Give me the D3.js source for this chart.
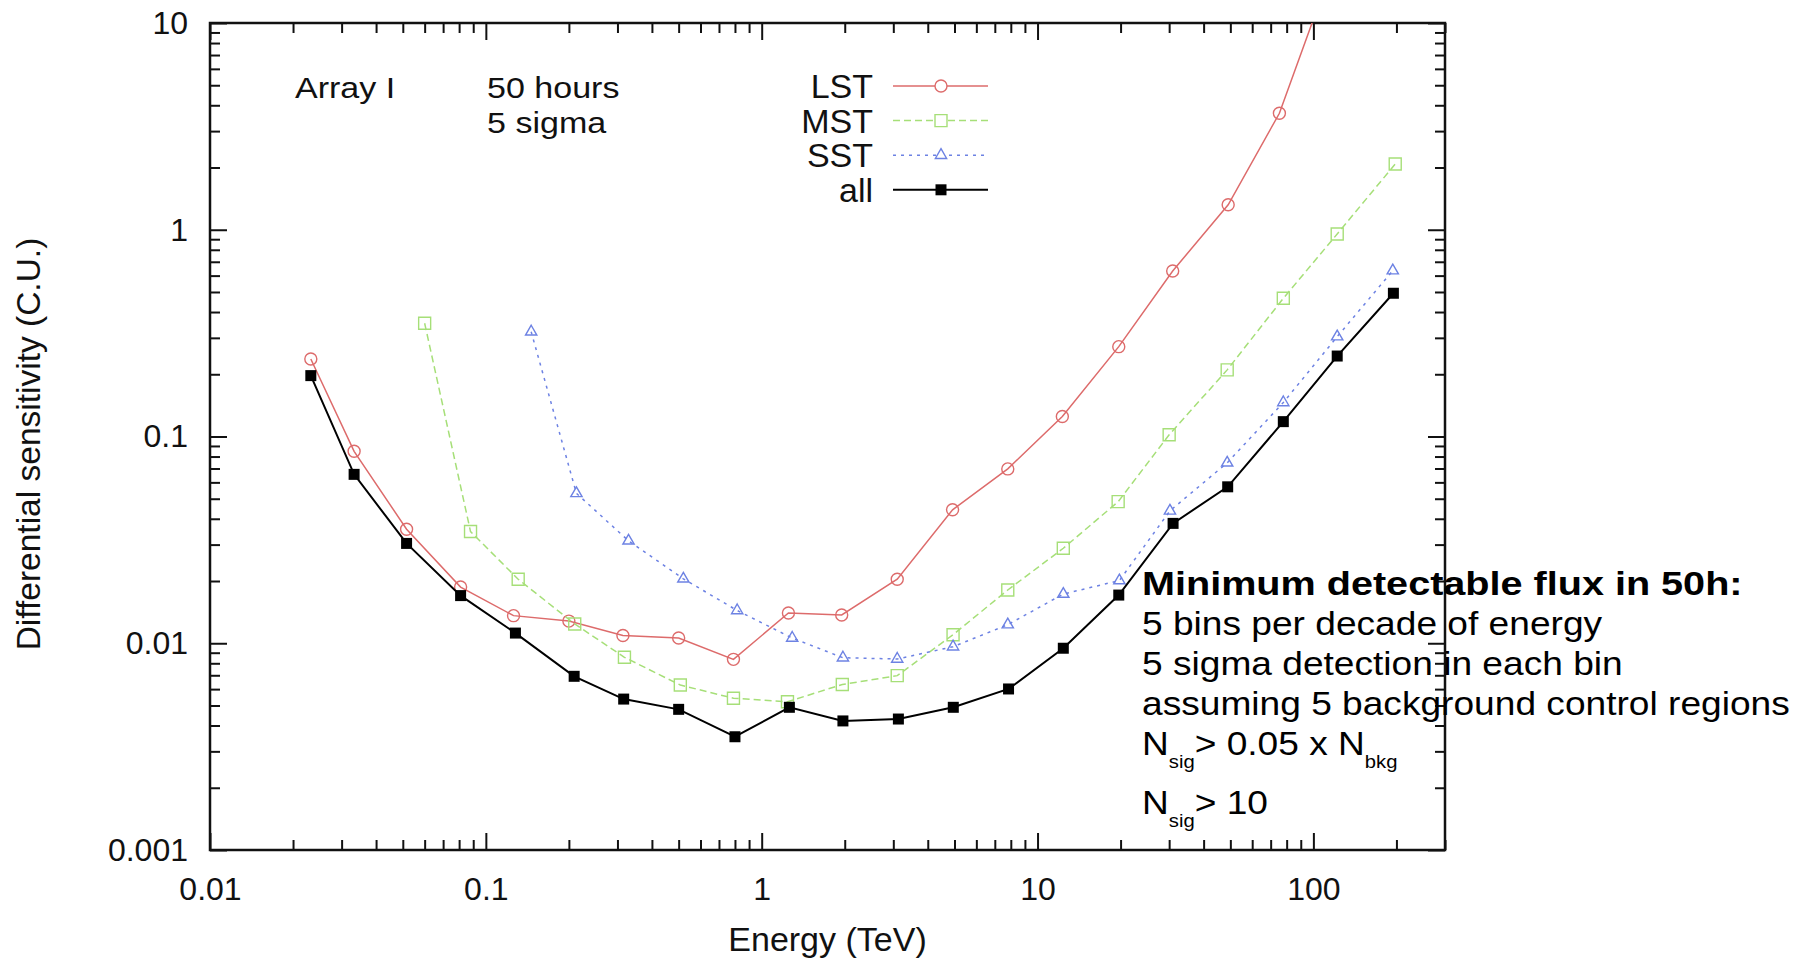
<!DOCTYPE html>
<html>
<head>
<meta charset="utf-8">
<script src="https://cdn.jsdelivr.net/npm/d3@7"></script>
<style>
  body { margin: 0; background: #fff; }
  svg { display: block; font-family: "Liberation Sans", Arial, Helvetica, sans-serif; }
</style>
</head>
<body>
<div id="chart"></div>
<script>
// DATA  (energy in TeV, differential sensitivity in Crab units)
const lstEnergy = [0.0232, 0.0333, 0.0516, 0.081, 0.126, 0.2, 0.314, 0.5, 0.79, 1.25, 1.95, 3.1, 4.92, 7.8, 12.3, 19.7, 30.9, 49.1, 75.3, 120]
const lstSens = [0.237, 0.0848, 0.0356, 0.0187, 0.0136, 0.0128, 0.0109, 0.0106, 0.00836, 0.0140, 0.0137, 0.0204, 0.0442, 0.0697, 0.125, 0.272, 0.632, 1.32, 3.66, 20.4]

const mstEnergy = [0.06, 0.088, 0.131, 0.21, 0.318, 0.507, 0.79, 1.24, 1.96, 3.1, 4.94, 7.8, 12.4, 19.6, 30, 48.7, 77.8, 122, 198]
const mstSens = [0.353, 0.0347, 0.0204, 0.0124, 0.00855, 0.00628, 0.00542, 0.00521, 0.00632, 0.00697, 0.0110, 0.0181, 0.0288, 0.0484, 0.102, 0.210, 0.466, 0.954, 2.08]

const sstEnergy = [0.146, 0.213, 0.329, 0.52, 0.815, 1.29, 1.97, 3.1, 4.94, 7.8, 12.4, 19.8, 30.2, 48.7, 77.8, 122, 194]
const sstSens = [0.321, 0.0531, 0.0313, 0.0205, 0.0144, 0.0106, 0.00851, 0.00839, 0.00962, 0.0123, 0.0173, 0.0201, 0.0437, 0.0746, 0.146, 0.304, 0.634]

const allEnergy = [0.0232, 0.0333, 0.0516, 0.081, 0.128, 0.209, 0.316, 0.5, 0.8, 1.26, 1.97, 3.13, 4.95, 7.85, 12.4, 19.7, 31, 48.9, 77.8, 122, 195]
const allSens = [0.197, 0.0656, 0.0304, 0.0170, 0.0112, 0.00692, 0.00537, 0.00479, 0.00353, 0.0049, 0.00421, 0.0043, 0.0049, 0.00601, 0.00946, 0.0171, 0.038, 0.0571, 0.118, 0.245, 0.493]

const seriesNames = ["LST", "MST", "SST", "all"]
const xMajorTicks = [0.01, 0.1, 1, 10, 100]
const yMajorTicks = [0.001, 0.01, 0.1, 1, 10]

const drawChart = () => {
  // ACCESSOR
  const xAccessor = d => d.energy
  const yAccessor = d => d.sens

  // DIMENSIONS
  let dimensions = {
    width: 1803,
    height: 959,
    margin: {
      top: 23,
      right: 358,
      bottom: 109,
      left: 210,
    },
  }
  dimensions.boundedWidth = dimensions.width
    - dimensions.margin.left
    - dimensions.margin.right
  dimensions.boundedHeight = dimensions.height
    - dimensions.margin.top
    - dimensions.margin.bottom

  const styles = {
    LST: { color: "#dd6b6b", width: 1.5, dash: null, symbol: d3.symbolCircle, size: 113, fill: "none" },
    MST: { color: "#a6df78", width: 1.5, dash: "7,4", symbol: d3.symbolSquare, size: 144, fill: "none" },
    SST: { color: "#6d82e3", width: 1.5, dash: "3,5", symbol: d3.symbolTriangle, size: 55, fill: "none" },
    all: { color: "#000000", width: 2, dash: null, symbol: d3.symbolSquare, size: 121, fill: "#000000" },
  }
  const series = [
    [lstEnergy, lstSens],
    [mstEnergy, mstSens],
    [sstEnergy, sstSens],
    [allEnergy, allSens],
  ].map(([energy, sens], k) => ({
    name: seriesNames[k],
    ...styles[seriesNames[k]],
    points: energy.map((e, i) => ({ energy: e, sens: sens[i] })),
  }))

  // INITIATE CHART
  const wrapper = d3.select("#chart")
    .append("svg")
    .attr("width", dimensions.width)
    .attr("height", dimensions.height)
  wrapper.append("rect")
    .attr("width", dimensions.width)
    .attr("height", dimensions.height)
    .attr("fill", "#fff")
  const bounds = wrapper.append("g")
    .attr("transform", `translate(${dimensions.margin.left},${dimensions.margin.top})`)

  bounds.append("clipPath")
    .attr("id", "plot-clip")
    .append("rect")
    .attr("width", dimensions.boundedWidth)
    .attr("height", dimensions.boundedHeight)

  // SCALES
  const xScale = d3.scaleLog()
    .domain([0.01, 300])
    .range([0, dimensions.boundedWidth])
  const yScale = d3.scaleLog()
    .domain([0.001, 10])
    .range([dimensions.boundedHeight, 0])

  const isMajor = majors => t => majors.some(m => Math.abs(m - t) / m < 1e-6)
  const xMinor = xScale.ticks().filter(t => !isMajor(xMajorTicks)(t))
  const yMinor = yScale.ticks().filter(t => !isMajor(yMajorTicks)(t))

  // AXES (all ticks point inward, mirrored on top and right)
  const fmt = d => d3.format("~g")(d)
  const axes = bounds.append("g").attr("class", "axes")

  const styleAxis = g => {
    g.select(".domain").remove()
    g.attr("font-family", null).attr("font-size", null)
    g.selectAll(".tick line").attr("stroke", "#111").attr("stroke-width", 2)
    g.selectAll(".tick text")
      .attr("fill", "#111")
      .style("font-size", "32px")
  }

  axes.append("g")
    .attr("transform", `translate(0,${dimensions.boundedHeight})`)
    .call(d3.axisBottom(xScale).tickValues(xMajorTicks).tickFormat(fmt).tickSize(-17).tickPadding(27))
    .call(styleAxis)
  axes.append("g")
    .attr("transform", `translate(0,${dimensions.boundedHeight})`)
    .call(d3.axisBottom(xScale).tickValues(xMinor).tickFormat("").tickSize(-10))
    .call(styleAxis)
  axes.append("g")
    .call(d3.axisTop(xScale).tickValues(xMajorTicks).tickFormat("").tickSize(-17))
    .call(styleAxis)
  axes.append("g")
    .call(d3.axisTop(xScale).tickValues(xMinor).tickFormat("").tickSize(-10))
    .call(styleAxis)

  axes.append("g")
    .call(d3.axisLeft(yScale).tickValues(yMajorTicks).tickFormat(fmt).tickSize(-17).tickPadding(22))
    .call(styleAxis)
  axes.append("g")
    .call(d3.axisLeft(yScale).tickValues(yMinor).tickFormat("").tickSize(-10))
    .call(styleAxis)
  axes.append("g")
    .attr("transform", `translate(${dimensions.boundedWidth},0)`)
    .call(d3.axisRight(yScale).tickValues(yMajorTicks).tickFormat("").tickSize(-17))
    .call(styleAxis)
  axes.append("g")
    .attr("transform", `translate(${dimensions.boundedWidth},0)`)
    .call(d3.axisRight(yScale).tickValues(yMinor).tickFormat("").tickSize(-10))
    .call(styleAxis)

  // frame
  bounds.append("rect")
    .attr("width", dimensions.boundedWidth)
    .attr("height", dimensions.boundedHeight)
    .attr("fill", "none")
    .attr("stroke", "#111")
    .attr("stroke-width", 2.5)

  // axis labels
  wrapper.append("text")
    .attr("x", dimensions.margin.left + dimensions.boundedWidth / 2)
    .attr("y", 951)
    .attr("text-anchor", "middle")
    .style("font-size", "34px")
    .attr("fill", "#111")
    .text("Energy (TeV)")
  wrapper.append("text")
    .attr("transform", `translate(40,444) rotate(-90)`)
    .attr("text-anchor", "middle")
    .style("font-size", "33.5px")
    .attr("fill", "#111")
    .text("Differential sensitivity (C.U.)")

  // LINES + MARKERS
  const lineGenerator = d3.line()
    .x(d => xScale(xAccessor(d)))
    .y(d => yScale(yAccessor(d)))

  const plot = bounds.append("g").attr("clip-path", "url(#plot-clip)")
  const seriesGroups = plot.selectAll(".series")
    .data(series)
    .join("g")
      .attr("class", "series")

  seriesGroups.append("path")
    .attr("d", d => lineGenerator(d.points))
    .attr("fill", "none")
    .attr("stroke", d => d.color)
    .attr("stroke-width", d => d.width)
    .attr("stroke-dasharray", d => d.dash)

  seriesGroups.each(function(s) {
    d3.select(this).selectAll("path.marker")
      .data(s.points)
      .join("path")
        .attr("class", "marker")
        .attr("transform", d => `translate(${xScale(xAccessor(d))},${yScale(yAccessor(d))})`)
        .attr("d", d3.symbol(s.symbol, s.size))
        .attr("fill", s.fill)
        .attr("stroke", s.color)
        .attr("stroke-width", s.fill === "none" ? 1.4 : 0)
  })

  // LEGEND
  const legend = wrapper.append("g")
  const legendRows = legend.selectAll("g")
    .data(series)
    .join("g")
      .attr("transform", (d, i) => `translate(0,${98 + i * 34.6})`)
  legendRows.append("text")
    .attr("x", 873)
    .attr("text-anchor", "end")
    .style("font-size", "34px")
    .attr("fill", "#111")
    .text(d => d.name)
  legendRows.append("line")
    .attr("x1", 893)
    .attr("x2", 988)
    .attr("y1", -12)
    .attr("y2", -12)
    .attr("stroke", d => d.color)
    .attr("stroke-width", d => d.width)
    .attr("stroke-dasharray", d => d.dash)
  legendRows.append("path")
    .attr("transform", "translate(941,-12)")
    .attr("d", d => d3.symbol(d.symbol, d.size)())
    .attr("fill", d => d.fill === "none" ? "#fff" : d.fill)
    .attr("stroke", d => d.color)
    .attr("stroke-width", d => d.fill === "none" ? 1.4 : 0)

  // LABELS (30px glyphs, stretched sideways like the source image)
  const label = (x, y, txt) => wrapper.append("text")
    .attr("transform", `translate(${x},${y}) scale(1.135,1)`)
    .style("font-size", "30px")
    .attr("fill", "#111")
    .text(txt)
  label(295, 98, "Array I")
  label(487, 98, "50 hours")
  label(487, 132.5, "5 sigma")

  // NOTE
  const noteLines = [
    [["Minimum detectable flux in 50h:", "bold"]],
    [["5 bins per decade of energy", ""]],
    [["5 sigma detection in each bin", ""]],
    [["assuming 5 background control regions", ""]],
    [["N", ""], ["sig", "sub"], ["> 0.05 x N", ""], ["bkg", "sub"]],
    [["N", ""], ["sig", "sub"], ["> 10", ""]],
  ]
  let baseline = 595
  noteLines.forEach((line, i) => {
    if (i > 0) baseline += 40
    if (i > 0 && noteLines[i - 1].some(p => p[1] === "sub")) baseline += 19
    const bold = line[0][1] === "bold"
    const t = wrapper.append("text")
      .attr("transform", `translate(1142,${baseline}) scale(${bold ? 1.2 : 1.125},1)`)
      .attr("fill", "#000")
      .style("font-size", "33px")
    line.forEach(([txt, kind], j) => {
      const prevSub = j > 0 && line[j - 1][1] === "sub"
      t.append("tspan")
        .attr("dy", kind === "sub" ? 13 : (prevSub ? -13 : 0))
        .style("font-size", kind === "sub" ? "18px" : null)
        .style("font-weight", kind === "bold" ? "bold" : null)
        .text(txt)
    })
  })
}

drawChart()
</script>
</body>
</html>
